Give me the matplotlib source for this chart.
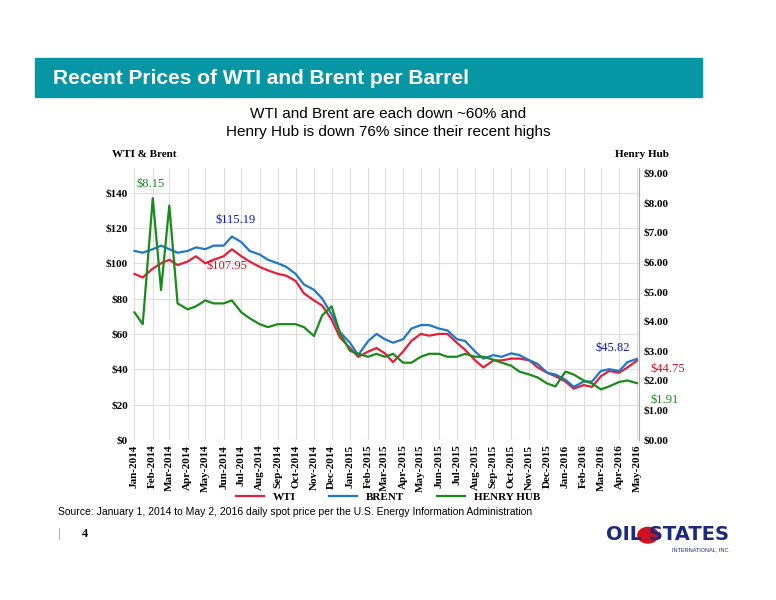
import matplotlib
matplotlib.use("Agg")
import matplotlib.pyplot as plt
import matplotlib.patches as mpatches
import pandas as pd
import numpy as np

dates = pd.date_range("2014-01-01", "2016-05-01", freq="SMS")
wti = [94, 92, 97, 100, 102, 99, 101, 104, 100, 102, 104, 107.95, 104, 101, 98, 96, 94, 93,
       90, 83, 79, 76, 68, 58, 52, 47, 50, 52, 49, 44, 50, 56, 60, 59, 60, 60, 55, 51, 45, 41,
       45, 45, 46, 46, 45, 41, 38, 36, 33, 29, 31, 30, 36, 39, 38, 41, 44.75]
brent = [107, 106, 108, 110, 108, 106, 107, 109, 108, 110, 110, 115.19, 112, 107, 105, 102, 100, 98,
         94, 88, 85, 80, 71, 61, 55, 48, 56, 60, 57, 55, 57, 63, 65, 65, 63, 62, 57, 56, 50, 46,
         48, 47, 49, 48, 45, 43, 38, 37, 34, 30, 33, 33, 39, 40, 39, 44, 45.82]
hh = [4.3, 3.9, 8.15, 5.05, 7.9, 4.6, 4.4, 4.5, 4.7, 4.6, 4.6, 4.7, 4.3, 4.1, 3.9, 3.8, 3.9, 3.9,
      3.9, 3.8, 3.5, 4.2, 4.5, 3.6, 3.0, 2.9, 2.8, 2.9, 2.8, 2.9, 2.6, 2.6, 2.8, 2.9, 2.9, 2.8,
      2.8, 2.9, 2.8, 2.8, 2.7, 2.6, 2.5, 2.3, 2.2, 2.1, 1.9, 1.8, 2.3, 2.2, 2.0, 1.9, 1.7, 1.8,
      1.95, 2.0, 1.91]
month_labels = pd.date_range("2014-01-01", "2016-05-01", freq="MS")

serif = "Liberation Serif"
fig = plt.figure(figsize=(7.76, 6), dpi=100)
fig.patches.append(mpatches.Rectangle((0.045, 0.838), 0.86, 0.065, transform=fig.transFigure,
                                      color="#0796A3", zorder=0))
fig.text(0.068, 0.870, "Recent Prices of WTI and Brent per Barrel", color="white",
         fontsize=15, fontweight="bold", va="center", family="Liberation Sans")
fig.text(0.5, 0.795, "WTI and Brent are each down ~60% and\nHenry Hub is down 76% since their recent highs",
         ha="center", va="center", fontsize=11, family="Liberation Sans", linespacing=1.4)

ax = fig.add_axes([0.171, 0.267, 0.652, 0.453])
ax2 = ax.twinx()
ax.plot(dates, wti, color="#E2203A", lw=1.6, label="WTI")
ax.plot(dates, brent, color="#1F77C9", lw=1.6, label="BRENT")
ax2.plot(dates, hh, color="#1A8A1A", lw=1.6, label="HENRY HUB")
ax.set_ylim(0, 154)
ax2.set_ylim(0, 154 / 16.8)
ax.set_xlim(dates[0] - pd.Timedelta(days=3), dates[-1] + pd.Timedelta(days=3))
ax.set_yticks(range(0, 141, 20))
ax.set_yticklabels([f"${v}" for v in range(0, 141, 20)], family=serif, fontweight="bold", fontsize=8)
ax2.set_yticks(range(0, 10))
ax2.set_yticklabels([f"${v}.00" for v in range(0, 10)], family=serif, fontweight="bold", fontsize=8)
ax.set_xticks(month_labels)
ax.set_xticklabels([d.strftime("%b-%Y") for d in month_labels], rotation=90,
                   family=serif, fontweight="bold", fontsize=8)
ax.grid(True, color="#dddddd", lw=0.8)
for a in (ax, ax2):
    for s in ("top", "left", "bottom"):
        a.spines[s].set_visible(False)
    a.spines["right"].set_color("#aaaaaa")
    a.tick_params(length=0)
ax.spines["right"].set_visible(False)
ax2.spines["right"].set_visible(True)

ax.text(-0.04, 1.04, "WTI & Brent", transform=ax.transAxes, family=serif, fontweight="bold", fontsize=8)
ax2.text(1.06, 1.04, "Henry Hub", transform=ax.transAxes, family=serif, fontweight="bold", fontsize=8, ha="right")
ax2.annotate("$8.15", (dates[2], hh[2]), xytext=(-12, 8), textcoords="offset points", color="#1A8A1A", family=serif, fontsize=9)
ax.annotate("$115.19", (dates[11], brent[11]), xytext=(-12, 10), textcoords="offset points", color="#1010C0", family=serif, fontsize=9)
ax.annotate("$107.95", (dates[11], wti[11]), xytext=(-18, -14), textcoords="offset points", color="#D01020", family=serif, fontsize=9)
ax.annotate("$45.82", (dates[-1], brent[-1]), xytext=(-30, 6), textcoords="offset points", color="#1010C0", family=serif, fontsize=9)
ax.annotate("$44.75", (dates[-1], wti[-1]), xytext=(10, -8), textcoords="offset points", color="#D01020", family=serif, fontsize=9, annotation_clip=False)
ax2.annotate("$1.91", (dates[-1], hh[-1]), xytext=(10, -14), textcoords="offset points", color="#1A8A1A", family=serif, fontsize=9, annotation_clip=False)

h1, l1 = ax.get_legend_handles_labels()
h2, l2 = ax2.get_legend_handles_labels()
fig.legend(h1 + h2, l1 + l2, loc="center", bbox_to_anchor=(0.5, 0.172), ncol=3, frameon=False,
           prop={"family": serif, "weight": "bold", "size": 8}, handlelength=2.5, columnspacing=3)
fig.text(0.075, 0.142, "Source: January 1, 2014 to May 2, 2016 daily spot price per the U.S. Energy Information Administration",
         fontsize=7.5, family="Liberation Sans")
fig.text(0.075, 0.105, "|", fontsize=9, color="#888888", family=serif)
fig.text(0.105, 0.105, "4", fontsize=9, fontweight="bold", family=serif)
fig.text(0.94, 0.100, "OIL STATES", fontsize=14, fontweight="bold", color="#1B2A7A", ha="right", family="Liberation Sans Narrow")
fig.text(0.94, 0.082, "INTERNATIONAL, INC.", fontsize=4, color="#1B2A7A", ha="right", family="Liberation Sans")
fig.patches.append(mpatches.Circle((0.835, 0.108), 0.013, transform=fig.transFigure, color="#D01020", zorder=-1))
fig.savefig("out.png", dpi=100)
